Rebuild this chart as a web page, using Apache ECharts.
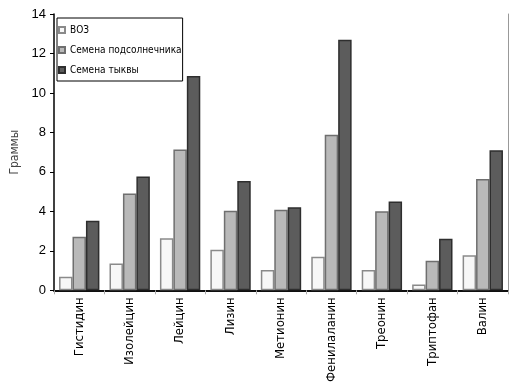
<!DOCTYPE html>
<html><head><meta charset="utf-8">
<script src="https://cdn.jsdelivr.net/npm/echarts@6/dist/echarts.min.js"></script>
<style>html,body{margin:0;padding:0;background:#fff}#c{width:516px;height:385px}</style>
</head><body><div id="c"></div>
<script>
const categories = ['Гистидин','Изолейцин','Лейцин','Лизин','Метионин','Фенилаланин','Треонин','Триптофан','Валин'];
const seriesNames = ['ВОЗ','Семена подсолнечника','Семена тыквы'];
const whoValues = [0.69, 1.36, 2.64, 2.06, 1.03, 1.70, 1.03, 0.29, 1.77];
const sunflowerValues = [2.71, 4.90, 7.14, 4.03, 4.08, 7.88, 4.01, 1.50, 5.64];
const pumpkinValues = [3.52, 5.76, 10.86, 5.54, 4.21, 12.70, 4.50, 2.61, 7.10];
const yTicks = [0, 2, 4, 6, 8, 10, 12, 14];

const narrow = '"DejaVu Sans Condensed", "Liberation Sans Narrow", "Liberation Sans", Arial, sans-serif';
const fills = ['#f7f7f7', '#b9b9b9', '#5c5c5c'];
const borders = ['#8a8a8a', '#6f6f6f', '#2e2e2e'];
const values = [whoValues, sunflowerValues, pumpkinValues];

const chart = echarts.init(document.getElementById('c'), null, {renderer: 'canvas'});
chart.setOption({
  animation: false,
  grid: {left: 54, right: 8, top: 14, bottom: 94},
  legend: {
    orient: 'vertical', left: 57, top: 18,
    data: seriesNames,
    icon: 'rect', itemWidth: 6, itemHeight: 6, itemGap: 10,
    borderColor: '#000', borderWidth: 1, padding: [7, 1, 6, 1],
    textStyle: {fontFamily: narrow, fontSize: 10, color: '#000'}
  },
  xAxis: [{
    type: 'category', data: categories, position: 'bottom',
    axisLine: {lineStyle: {color: '#000', width: 1.5}},
    axisTick: {show: true, length: 4, lineStyle: {color: '#aaa'}},
    axisLabel: {rotate: 90, fontFamily: narrow, fontSize: 13, color: '#000', margin: 7}
  }, {
    type: 'category', data: categories, position: 'top',
    axisLine: {lineStyle: {color: '#000', width: 1.5}},
    axisTick: {show: false}, axisLabel: {show: false}
  }],
  yAxis: [{
    type: 'value', min: 0, max: 14, interval: 2,
    name: 'Граммы', nameLocation: 'middle', nameGap: 32,
    nameTextStyle: {fontFamily: narrow, fontSize: 12, color: '#444'},
    axisLine: {show: true, lineStyle: {color: '#000', width: 1.5}},
    axisTick: {show: true, length: 4, lineStyle: {color: '#000'}},
    axisLabel: {fontFamily: '"Liberation Sans", Arial, sans-serif', fontSize: 13, color: '#000', margin: 8,
      formatter: v => yTicks.includes(v) ? String(v) : ''},
    splitLine: {show: false}
  }, {
    type: 'value', min: 0, max: 14, interval: 2, position: 'right',
    axisLine: {show: true, lineStyle: {color: '#999', width: 1}},
    axisTick: {show: false}, axisLabel: {show: false}, splitLine: {show: false}
  }],
  series: seriesNames.map((n, i) => ({
    name: n, type: 'bar', data: values[i],
    barCategoryGap: '20%', barGap: '0%',
    itemStyle: {color: fills[i], borderColor: borders[i], borderWidth: 1.5}
  }))
});
</script></body></html>
